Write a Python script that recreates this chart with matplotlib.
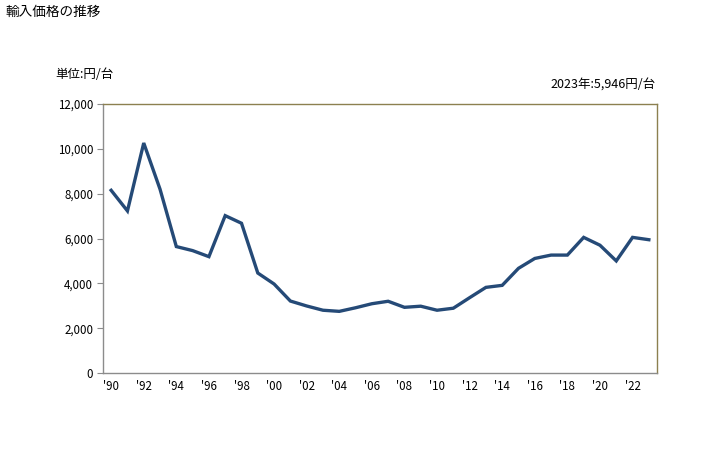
import matplotlib
matplotlib.use("Agg")
import matplotlib.pyplot as plt
from matplotlib.ticker import FuncFormatter

plt.rcParams['font.family'] = ['Noto Sans CJK JP', 'DejaVu Sans']

# ==============================================
# Data
# ==============================================
years = list(range(1990, 2024))
prices = [8150, 7230, 10260, 8200, 5640, 5460, 5190, 7020, 6680, 4460,
          3970, 3210, 2990, 2800, 2750, 2910, 3090, 3200, 2930, 2980,
          2800, 2890, 3360, 3820, 3910, 4670, 5110, 5260, 5260, 6050,
          5700, 5000, 6050, 5946]
tick_years = list(range(1990, 2023, 2))
y_ticks = [0, 2000, 4000, 6000, 8000, 10000, 12000]

line_color = '#254a77'
frame_color = '#8c8050'
axis_gray = '#8c8c8c'

fig = plt.figure(figsize=(7.28, 4.5), dpi=100)
ax = fig.add_axes([103 / 728, 1 - 373 / 450, 554 / 728, 269 / 450])

ax.plot(years, prices, color=line_color, linewidth=2.4, solid_joinstyle='miter')

ax.set_xlim(years[0] - 0.5, years[-1] + 0.5)
ax.set_ylim(0, 12000)
ax.set_yticks(y_ticks)
ax.yaxis.set_major_formatter(FuncFormatter(lambda v, p: f"{int(v):,}"))
ax.set_xticks(tick_years)
ax.set_xticklabels([f"'{y % 100:02d}" for y in tick_years])

ax.tick_params(axis='x', length=0, labelsize=8.3, pad=5, colors='#000000')
ax.tick_params(axis='y', length=4, width=0.8, color=axis_gray, labelsize=8.3, pad=3)

for side in ('top', 'right'):
    ax.spines[side].set_color(frame_color)
    ax.spines[side].set_linewidth(1.0)
for side in ('left', 'bottom'):
    ax.spines[side].set_color(axis_gray)
    ax.spines[side].set_linewidth(1.0)

fig.text(5 / 728, 1 - 12 / 450, '輸入価格の推移', fontsize=9.8, va='center', ha='left')
fig.text(55 / 728, 1 - 74 / 450, '単位:円/台', fontsize=9, va='center', ha='left')
fig.text(656 / 728, 1 - 85 / 450, '2023年:5,946円/台', fontsize=9, va='center', ha='right')

fig.savefig('out.png', dpi=100)
